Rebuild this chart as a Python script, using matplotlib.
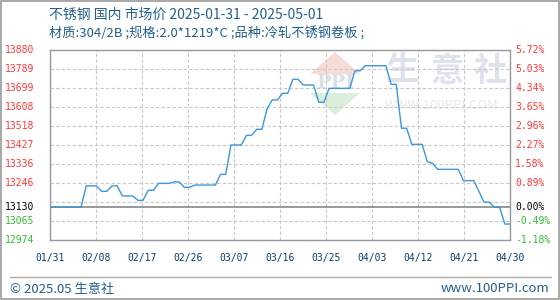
import matplotlib
matplotlib.use('Agg')
import matplotlib.pyplot as plt
from matplotlib.patches import Polygon, Rectangle
from matplotlib.lines import Line2D
import numpy as np

plt.rcParams['font.family'] = ['Noto Sans CJK SC', 'DejaVu Sans']

title = '不锈钢 国内 市场价 2025-01-31 - 2025-05-01'
subtitle = '材质:304/2B ;规格:2.0*1219*C ;品种:冷轧不锈钢卷板 ;'

prices = [13130, 13130, 13130, 13130, 13130, 13130, 13130, 13232, 13232, 13232,
          13206, 13206, 13232, 13232, 13184, 13184, 13184, 13163, 13163, 13211,
          13211, 13244, 13244, 13244, 13251, 13251, 13225, 13225, 13236, 13236,
          13236, 13236, 13236, 13287, 13287, 13427, 13427, 13427, 13473, 13473,
          13502, 13502, 13600, 13642, 13642, 13674, 13674, 13740, 13740, 13713,
          13713, 13713, 13631, 13631, 13697, 13697, 13697, 13697, 13697, 13781,
          13781, 13805, 13805, 13805, 13805, 13805, 13716, 13716, 13507, 13507,
          13430, 13430, 13430, 13347, 13340, 13311, 13311, 13311, 13311, 13311,
          13257, 13257, 13257, 13205, 13154, 13154, 13130, 13130, 13050, 13050]

x_labels = ['01/31', '02/08', '02/17', '02/26', '03/07', '03/16',
            '03/25', '04/03', '04/12', '04/21', '04/30']
left_labels = ['13880', '13789', '13699', '13608', '13518', '13427',
               '13336', '13246', '', '13065', '12974']
right_labels = ['5.72%', '5.03%', '4.34%', '3.65%', '2.96%', '2.27%',
                '1.58%', '0.89%', '', '-0.49%', '-1.18%']
base_price = 13130
y_min, y_max = 12974, 13880

RED = '#ff3636'
GREEN = '#33bb33'
BLUE_TXT = '#245f8e'

W, H = 560, 300
fig = plt.figure(figsize=(5.6, 3.0), dpi=100)
fig.patch.set_facecolor('white')

def fx(px):
    return px / W

def fy(py):
    return 1 - py / H

ax = fig.add_axes([fx(50), fy(240), 460 / W, 190 / H])
days = np.arange(len(prices))
n_last = len(prices) - 1

# watermark
red_tri = Polygon([[fx(335), fy(52)], [fx(310), fy(74)], [fx(360), fy(74)]],
                  closed=True, transform=fig.transFigure, facecolor='#f7dcd8',
                  edgecolor='none', zorder=0)
green_tri = Polygon([[fx(310), fy(93)], [fx(360), fy(93)], [fx(335), fy(115)]],
                    closed=True, transform=fig.transFigure, facecolor='#d9efdc',
                    edgecolor='none', zorder=0)
ax.add_artist(red_tri)
ax.add_artist(green_tri)
ax.text(fx(335), fy(83), 'PPI', transform=fig.transFigure, ha='center', va='center',
        fontsize=14, color='#d9dee9', family='DejaVu Serif', fontweight='bold', zorder=0)
for ch, cx in zip('生意社', [403, 447, 490]):
    ax.text(fx(cx), fy(71), ch, transform=fig.transFigure, ha='center', va='center',
            fontsize=24, color='#dde2ec', fontweight='bold', zorder=0)
ax.text(fx(442), fy(106), 'WWW.100PPI.COM', transform=fig.transFigure, ha='center',
        va='center', fontsize=9.5, color='#e6e8ee', zorder=0)

ax.plot(days, prices, color='#3d97d9', lw=1.0, zorder=3)
ax.set_xlim(0, n_last)
ax.set_ylim(y_min, y_max)

grid_y = np.linspace(y_max, y_min, len(left_labels))
grid_x = np.linspace(0, n_last, len(x_labels))
ax.set_yticks(grid_y)
ax.set_yticklabels([])
ax.set_xticks(grid_x)
ax.set_xticklabels(x_labels, fontsize=7, color='#0b3d6b', family='DejaVu Sans Mono')
ax.tick_params(axis='both', length=0)
ax.tick_params(axis='x', pad=9)
ax.grid(True, ls=(0, (3, 2)), color='#c8c8c8', lw=0.8, zorder=1)
ax.axhline(base_price, color='#999999', lw=1.4, zorder=2)

for s in ax.spines.values():
    s.set_color('#999999')
    s.set_linewidth(1.0)

ytr = ax.get_yaxis_transform()
for v, lab, rlab in zip(grid_y, left_labels, right_labels):
    if not lab:
        continue
    col = RED if v > base_price else GREEN
    ax.text(-16 / 460, v, lab, transform=ytr, ha='right', va='center',
            fontsize=7, color=col, family='DejaVu Sans Mono')
    ax.text(1 + 5 / 460, v, rlab, transform=ytr, ha='left', va='center',
            fontsize=7, color=col, family='DejaVu Sans Mono')
ax.text(-16 / 460, base_price, str(base_price), transform=ytr, ha='right', va='center',
        fontsize=7, color='black', family='DejaVu Sans Mono')
ax.text(1 + 5 / 460, base_price, '0.00%', transform=ytr, ha='left', va='center',
        fontsize=7, color='black', family='DejaVu Sans Mono')

fig.text(fx(49), fy(15), title, ha='left', va='center', fontsize=10, color=BLUE_TXT)
fig.text(fx(49), fy(34), subtitle, ha='left', va='center', fontsize=9.5, color=BLUE_TXT)

fig.add_artist(Line2D([fx(10), fx(551)], [fy(277), fy(277)], transform=fig.transFigure,
                      color='#aaaaaa', lw=1.0))
fig.text(fx(10), fy(289), '© 2025.05 生意社', ha='left', va='center', fontsize=9.5,
         color=BLUE_TXT)
fig.text(fx(549), fy(289), 'www.100PPI.com', ha='right', va='center', fontsize=9.5,
         color=BLUE_TXT)

fig.add_artist(Rectangle((0.001, 0.002), 0.997, 0.995, transform=fig.transFigure,
                         fill=False, edgecolor='#999999', lw=1.2))

fig.savefig('out.png', dpi=100)
